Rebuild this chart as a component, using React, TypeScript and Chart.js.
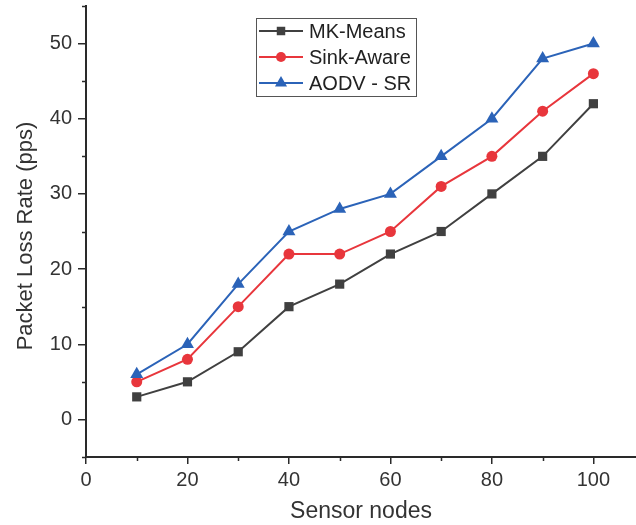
import React, { useEffect, useRef } from 'react';
import { Chart, registerables } from 'chart.js';

Chart.register(...registerables);

const sensorNodes = [10, 20, 30, 40, 50, 60, 70, 80, 90, 100];
const mkMeans = [3, 5, 9, 15, 18, 22, 25, 30, 35, 42];
const sinkAware = [5, 8, 15, 22, 22, 25, 31, 35, 41, 46];
const aodvSr = [6, 10, 18, 25, 28, 30, 35, 40, 48, 50];
const seriesNames = ['MK-Means', 'Sink-Aware', 'AODV - SR'];
const xTitle = 'Sensor nodes';
const yTitle = 'Packet Loss Rate (pps)';
const xMinorTicks = [10, 30, 50, 70, 90];
const yMinorTicks = [-5, 5, 15, 25, 35, 45, 55];

const AXIS = '#2a2a2a';
const TEXT = '#333333';
const GRAY = '#404040';
const RED = '#e8363c';
const BLUE = '#2b63b8';
const FONT = "'Liberation Sans', Arial, sans-serif";

const styles = [
  { color: GRAY, point: 'rect', radius: 6.5 },
  { color: RED, point: 'circle', radius: 5.5 },
  { color: BLUE, point: 'triangle', radius: 7.5 },
];

function drawMarker(ctx: CanvasRenderingContext2D, kind: string, x: number, y: number, r: number, color: string) {
  ctx.fillStyle = color;
  ctx.beginPath();
  if (kind === 'rect') {
    const s = Math.SQRT1_2 * r;
    ctx.rect(x - s, y - s, 2 * s, 2 * s);
  } else if (kind === 'circle') {
    ctx.arc(x, y, r, 0, Math.PI * 2);
  } else {
    let a = 0;
    ctx.moveTo(x + Math.sin(a) * r, y - Math.cos(a) * r);
    a += (2 * Math.PI) / 3;
    ctx.lineTo(x + Math.sin(a) * r, y - Math.cos(a) * r);
    a += (2 * Math.PI) / 3;
    ctx.lineTo(x + Math.sin(a) * r, y - Math.cos(a) * r);
    ctx.closePath();
  }
  ctx.fill();
}

const extrasPlugin = {
  id: 'extras',
  afterDraw(chart: any) {
    const { ctx, chartArea, scales } = chart;
    const xs = scales.x;
    const ys = scales.y;
    ctx.save();
    // minor ticks
    ctx.strokeStyle = AXIS;
    ctx.lineWidth = 1.5;
    ctx.beginPath();
    xMinorTicks.forEach((v) => {
      const px = Math.round(xs.getPixelForValue(v)) + 0.5;
      ctx.moveTo(px, chartArea.bottom);
      ctx.lineTo(px, chartArea.bottom + 4);
    });
    yMinorTicks.forEach((v) => {
      const py = Math.round(ys.getPixelForValue(v)) + 0.5;
      ctx.moveTo(chartArea.left - 4, py);
      ctx.lineTo(chartArea.left, py);
    });
    ctx.stroke();

    // y title
    ctx.fillStyle = TEXT;
    ctx.font = `22px ${FONT}`;
    ctx.textAlign = 'center';
    ctx.textBaseline = 'middle';
    ctx.translate(26, 236);
    ctx.rotate(-Math.PI / 2);
    ctx.fillText(yTitle, 0, 0);
    ctx.setTransform(1, 0, 0, 1, 0, 0);

    // legend
    const bx = 256.5, by = 18.5, bw = 160, bh = 78;
    ctx.fillStyle = '#ffffff';
    ctx.fillRect(bx, by, bw, bh);
    ctx.strokeStyle = '#555555';
    ctx.lineWidth = 1;
    ctx.strokeRect(bx, by, bw, bh);
    const rows = [31, 57, 83];
    ctx.font = `20px ${FONT}`;
    ctx.textAlign = 'left';
    ctx.textBaseline = 'middle';
    seriesNames.forEach((name, i) => {
      const st = styles[i];
      const ry = rows[i];
      ctx.strokeStyle = st.color;
      ctx.lineWidth = 2;
      ctx.beginPath();
      ctx.moveTo(259, ry);
      ctx.lineTo(303, ry);
      ctx.stroke();
      drawMarker(ctx, st.point, 281, ry, st.radius - 0.5, st.color);
      ctx.fillStyle = '#222222';
      ctx.fillText(name, 309, ry + 1);
    });
    ctx.restore();
  },
};

export default function App() {
  const ref = useRef<HTMLCanvasElement | null>(null);
  useEffect(() => {
    document.body.style.margin = '0';
    if (!ref.current) return;
    const series = [mkMeans, sinkAware, aodvSr];
    const chart = new Chart(ref.current, {
      type: 'line',
      data: {
        datasets: series.map((vals, i) => ({
          label: seriesNames[i],
          data: vals.map((v, j) => ({ x: sensorNodes[j], y: v })),
          borderColor: styles[i].color,
          backgroundColor: styles[i].color,
          pointBackgroundColor: styles[i].color,
          pointBorderColor: styles[i].color,
          pointBorderWidth: 0,
          pointStyle: styles[i].point as any,
          pointRadius: styles[i].radius,
          borderWidth: 2,
          tension: 0,
          order: 2 - i,
        })),
      },
      options: {
        animation: false,
        responsive: false,
        events: [],
        layout: { autoPadding: false, padding: { top: 6, right: 0, left: 0, bottom: 0 } },
        plugins: { legend: { display: false }, tooltip: { enabled: false }, title: { display: false } },
        scales: {
          x: {
            type: 'linear',
            min: 0,
            max: 108.4,
            afterFit: (s: any) => {
              s.height = 68;
              s.paddingLeft = 0;
              s.paddingRight = 0;
            },
            ticks: {
              stepSize: 20,
              includeBounds: false,
              color: TEXT,
              font: { family: FONT, size: 20 },
              padding: 4,
              maxRotation: 0,
            },
            grid: { drawOnChartArea: false, drawTicks: true, tickLength: 7, color: AXIS, lineWidth: 1.5 },
            border: { display: true, color: AXIS, width: 2 },
            title: {
              display: true,
              text: xTitle,
              color: TEXT,
              font: { family: FONT, size: 23 },
              padding: { top: 0, bottom: 0 },
            },
          },
          y: {
            type: 'linear',
            min: -5,
            max: 55,
            afterFit: (s: any) => {
              s.width = 86;
              s.paddingTop = 0;
              s.paddingBottom = 0;
            },
            ticks: {
              stepSize: 5,
              includeBounds: false,
              color: TEXT,
              font: { family: FONT, size: 20 },
              padding: 6,
              callback: (v: any) => (Number(v) % 10 === 0 ? String(v) : ''),
            },
            grid: {
              drawOnChartArea: false,
              drawTicks: true,
              tickLength: 8,
              lineWidth: 1.5,
              color: (c: any) => (c.tick && Number(c.tick.value) % 10 === 0 ? AXIS : 'rgba(0,0,0,0)'),
            },
            border: { display: true, color: AXIS, width: 2 },
            title: { display: false },
          },
        },
      },
      plugins: [extrasPlugin],
    });
    return () => chart.destroy();
  }, []);
  return (
    <div style={{ width: 636, height: 525 }}>
      <canvas ref={ref} width={636} height={525} style={{ display: 'block' }} />
    </div>
  );
}
